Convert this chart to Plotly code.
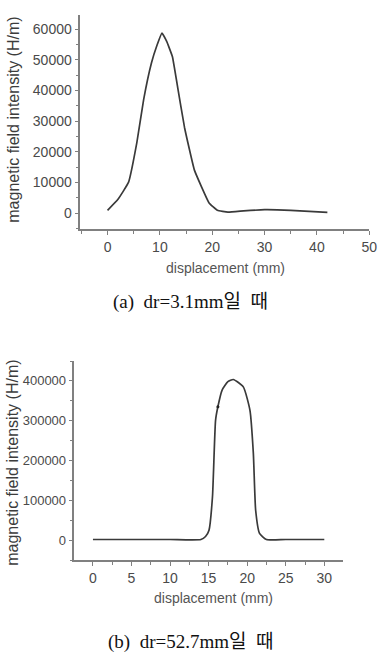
import plotly.graph_objects as go

# Chart (a): dr = 3.1 mm
disp_a = [0, 2, 4, 5.6, 6.9, 8.4, 9.4, 10.4, 11.3, 12.4, 13.4, 14.7, 16.6, 19.4, 21, 23, 26, 30, 35, 42]
field_a = [900, 4500, 10000, 23000, 37000, 49000, 54500, 58700, 56000, 51000, 41000, 28000, 14000,
           3300, 900, 300, 700, 1100, 900, 200]

# Chart (b): dr = 52.7 mm
disp_b = [0, 5, 10, 14.0, 14.6, 15.05, 15.5, 15.9, 16.2, 16.75, 17.5, 18.2, 19.5, 20.36, 20.8, 21.1,
          21.6, 22.5, 25, 30]
field_b = [1500, 1500, 1500, 1500, 9000, 25000, 109000, 301000, 335000, 377000, 398000, 403500,
           385000, 326000, 218000, 75000, 17000, 1500, 1500, 1500]
blip_x = [16.2]
blip_y = [335000]

ticks_a_x = [0, 10, 20, 30, 40, 50]
ticks_a_y = [0, 10000, 20000, 30000, 40000, 50000, 60000]
ticks_b_x = [0, 5, 10, 15, 20, 25, 30]
ticks_b_y = [0, 100000, 200000, 300000, 400000]

caption_a = "(a)  dr=3.1mm일  때"
caption_b = "(b)  dr=52.7mm일  때"
x_title = "displacement (mm)"
y_title = "magnetic field intensity (H/m)"

W, H = 389, 654
line_col = "#3a3a3a"
axis_col = "#808080"
tick_font_a = dict(family="Liberation Sans, Arial", size=14, color="#4a4a4a")
tick_font_b = dict(family="Liberation Sans, Arial", size=13, color="#4a4a4a")

fig = go.Figure()
fig.add_trace(go.Scatter(x=disp_a, y=field_a, mode="lines", xaxis="x", yaxis="y",
                         line=dict(color=line_col, width=1.7, shape="spline", smoothing=0.3),
                         showlegend=False))
fig.add_trace(go.Scatter(x=disp_b, y=field_b, mode="lines", xaxis="x2", yaxis="y2",
                         line=dict(color=line_col, width=1.7, shape="spline", smoothing=0.5),
                         showlegend=False))
fig.add_trace(go.Scatter(x=blip_x, y=blip_y, mode="markers", xaxis="x2", yaxis="y2",
                         marker=dict(color="#222222", size=3), showlegend=False))

def ax_common(tf):
    return dict(showline=True, linecolor=axis_col, linewidth=1.5, ticks="outside",
                ticklen=4, tickcolor=axis_col, tickwidth=1.2, showgrid=False, zeroline=False,
                tickfont=tf, tickformat="d", fixedrange=True)

fig.update_layout(
    width=W, height=H, margin=dict(l=0, r=0, t=0, b=0),
    paper_bgcolor="white", plot_bgcolor="white",
    xaxis=dict(domain=[82 / W, 377 / W], range=[-5.2, 50], anchor="y",
               tickvals=ticks_a_x, minor=dict(ticks="outside", dtick=5, tick0=0, ticklen=3,
                                              tickcolor=axis_col),
               **ax_common(tick_font_a)),
    yaxis=dict(domain=[(H - 229) / H, (H - 15) / H], range=[-5200, 64600], anchor="x",
               tickvals=ticks_a_y, minor=dict(ticks="outside", dtick=5000, tick0=0, ticklen=3,
                                              tickcolor=axis_col),
               **ax_common(tick_font_a)),
    xaxis2=dict(domain=[76 / W, 350 / W], range=[-2.4, 32.4], anchor="y2",
                tickvals=ticks_b_x, minor=dict(ticks="outside", dtick=2.5, tick0=0, ticklen=3,
                                               tickcolor=axis_col),
                **ax_common(tick_font_a)),
    yaxis2=dict(domain=[(H - 560) / H, (H - 361) / H], range=[-50000, 450000], anchor="x2",
                tickvals=ticks_b_y, minor=dict(ticks="outside", dtick=50000, tick0=0, ticklen=3,
                                               tickcolor=axis_col),
                **ax_common(tick_font_b)),
)

title_font = dict(family="Liberation Sans, Arial", size=14, color="#555555")
ytitle_font = dict(family="Liberation Sans, Arial", size=16, color="#3c3c3c")
cap_font = dict(family="Liberation Serif, Noto Sans CJK KR", size=19, color="#111111")

def ann(text, x, y, font, angle=0):
    fig.add_annotation(text=text, x=x / W, y=1 - y / H, xref="paper", yref="paper",
                       showarrow=False, font=font, textangle=angle,
                       xanchor="center", yanchor="middle")

ann(x_title, 230, 268, title_font)
ann(y_title, 13, 120, ytitle_font, -90)
ann(caption_a, 194, 302, cap_font)
ann(x_title, 218, 598, title_font)
ann(y_title, 12, 463, ytitle_font, -90)
ann(caption_b, 194, 642, cap_font)

fig.write_html("out.html")
